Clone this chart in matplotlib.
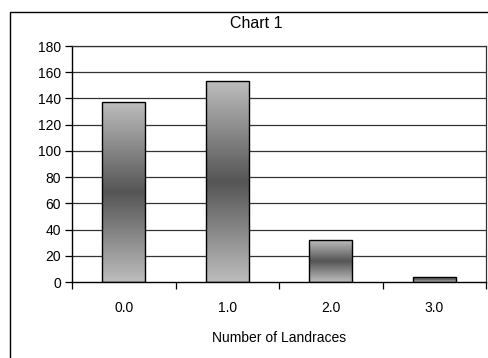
import numpy as np
import matplotlib
matplotlib.use("Agg")
import matplotlib.pyplot as plt
from matplotlib.colors import LinearSegmentedColormap
from matplotlib.patches import Rectangle

categories = ["0.0", "1.0", "2.0", "3.0"]
counts = [137, 153, 32, 4]
y_ticks = [0, 20, 40, 60, 80, 100, 120, 140, 160, 180]
title = "Chart 1"
x_label = "Number of Landraces"

plt.rcParams["font.family"] = ["Liberation Sans", "DejaVu Sans"]

fig = plt.figure(figsize=(4.88, 3.58), dpi=100)
fig.patch.set_facecolor("white")

# Outer chart frame (left and top edges visible)
fig.add_artist(Rectangle((10 / 488, -0.05), 1.2, (358 - 12) / 358 + 0.05,
                         transform=fig.transFigure, fill=False,
                         edgecolor="black", linewidth=1.0))

ax = fig.add_axes([72 / 488, (358 - 282) / 358, (486 - 72) / 488, (282 - 46) / 358])

x = np.arange(len(categories))

for yv in y_ticks[1:]:
    ax.axhline(yv, color="#333333", linewidth=0.9, zorder=1)

# Light–dark–light vertical gradient in each bar
cmap = LinearSegmentedColormap.from_list(
    "bar_grad", ["#bdbdbd", "#555555", "#bdbdbd"])
grad = np.linspace(0, 1, 256).reshape(-1, 1)

bars = ax.bar(x, counts, width=0.42, facecolor="none",
              edgecolor="black", linewidth=1.0, zorder=3)
for b in bars:
    x0, y0 = b.get_x(), b.get_y()
    w, h = b.get_width(), b.get_height()
    im = ax.imshow(grad, cmap=cmap, aspect="auto",
                   extent=[x0, x0 + w, y0, y0 + h], origin="lower",
                   zorder=2, interpolation="bilinear")
    im.set_clip_path(b)
ax.set_xlim(-0.5, len(categories) - 0.5)
ax.set_ylim(0, 180)

ax.set_yticks(y_ticks)
ax.set_xticks(x)
ax.set_xticklabels(categories)
ax.set_xticks(np.arange(-0.5, len(categories)), minor=True)
ax.tick_params(axis="x", which="major", length=0, pad=14, labelsize=10)
ax.tick_params(axis="x", which="minor", length=5, direction="out", width=0.9)
ax.tick_params(axis="y", length=5, direction="out", width=0.9, labelsize=10, pad=3)

for side in ["top", "right"]:
    ax.spines[side].set_color("#333333")
    ax.spines[side].set_linewidth(0.9)
for side in ["left", "bottom"]:
    ax.spines[side].set_color("black")
    ax.spines[side].set_linewidth(1.0)

ax.set_xlabel(x_label, fontsize=10, labelpad=11)
fig.text(256 / 488, 1 - 24 / 358, title, ha="center", va="center", fontsize=11.5)

fig.savefig("out.png", dpi=100, facecolor="white")
